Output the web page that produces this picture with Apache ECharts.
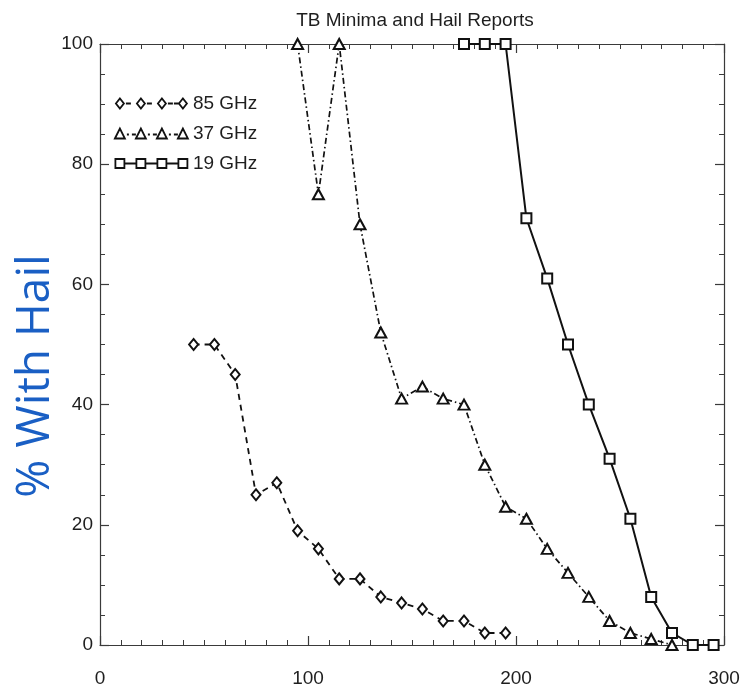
<!DOCTYPE html>
<html>
<head>
<meta charset="utf-8">
<script src="https://cdn.jsdelivr.net/npm/echarts@6/dist/echarts.min.js"></script>
<style>
html,body{margin:0;padding:0;background:#fff;}
#chart{width:744px;height:688px;}
</style>
</head>
<body>
<div id="chart"></div>
<script>
// ---- data ----
var titleText = 'TB Minima and Hail Reports';
var yAxisTitle = '% With Hail';
var xTicks = [0, 100, 200, 300];
var yTicks = [0, 20, 40, 60, 80, 100];

var tb85 = [45, 55, 65, 75, 85, 95, 105, 115, 125, 135, 145, 155, 165, 175, 185, 195];
var pct85 = [50, 50, 45, 25, 27, 19, 16, 11, 11, 8, 7, 6, 4, 4, 2, 2];

var tb37 = [95, 105, 115, 125, 135, 145, 155, 165, 175, 185, 195, 205, 215, 225, 235, 245, 255, 265, 275];
var pct37 = [100, 75, 100, 70, 52, 41, 43, 41, 40, 30, 23, 21, 16, 12, 8, 4, 2, 1, 0];

var tb19 = [175, 185, 195, 205, 215, 225, 235, 245, 255, 265, 275, 285, 295];
var pct19 = [100, 100, 100, 71, 61, 50, 40, 31, 21, 8, 2, 0, 0];

var seriesNames = ['85 GHz', '37 GHz', '19 GHz'];

function pairs(xs, ys) {
  return xs.map(function (x, i) { return [x, ys[i]]; });
}

// ---- legend icons (line + 4 markers) ----
function legendPath(kind) {
  var cs = [5, 26, 47, 68];
  var p = '';
  cs.forEach(function (c, i) {
    if (kind === 'diamond') {
      p += 'M' + (c - 4) + ' 5L' + c + ' 0L' + (c + 4) + ' 5L' + c + ' 10Z';
      if (i < 3) p += 'M' + (c + 6) + ' 5L' + (c + 11) + ' 5';
      if (i === 2) p += 'M' + (c + 12) + ' 5L' + (c + 17) + ' 5';
    } else if (kind === 'triangle') {
      p += 'M' + (c - 5) + ' 10L' + c + ' 0L' + (c + 5) + ' 10Z';
      if (i < 3) p += 'M' + (c + 7) + ' 6L' + (c + 9) + ' 6M' + (c + 12) + ' 6L' + (c + 16) + ' 6';
    } else {
      p += 'M' + (c - 4.5) + ' 0.5L' + (c + 4.5) + ' 0.5L' + (c + 4.5) + ' 9.5L' + (c - 4.5) + ' 9.5Z';
      if (i < 3) p += 'M' + (c + 4.5) + ' 5L' + (c + 16.5) + ' 5';
      if (i === 0) p += 'M0.5 5L' + (c - 4.5) + ' 5';
    }
  });
  p += 'M0 0M73 10';
  return 'path://' + p;
}

var axisLineStyle = { color: '#3a3a3a', width: 1.2 };
var labelFont = { fontFamily: 'Liberation Sans', fontSize: 19, color: '#1e1e1e' };

function makeAxis(pos, ticks, step, minorSplit, showLabels, margin, pad) {
  var lbl = { show: false };
  if (showLabels) {
    lbl = Object.assign({ margin: margin }, labelFont);
    if (pad) lbl.padding = pad;
  }
  return {
    type: 'value', min: ticks[0], max: ticks[ticks.length - 1], interval: step,
    position: pos,
    axisLine: { show: true, onZero: false, lineStyle: axisLineStyle },
    axisTick: { show: true, inside: true, length: 9, lineStyle: axisLineStyle },
    minorTick: { show: true, splitNumber: minorSplit, length: 5, lineStyle: { color: '#3a3a3a', width: 1 } },
    axisLabel: lbl,
    splitLine: { show: false }
  };
}

var chart = echarts.init(document.getElementById('chart'), null, { renderer: 'canvas' });

var option = {
  backgroundColor: '#ffffff',
  animation: false,
  title: {
    text: titleText,
    left: 410,
    textAlign: 'center',
    top: 6,
    textStyle: { fontFamily: 'Liberation Sans', fontSize: 19, fontWeight: 'normal', color: '#1e1e1e' }
  },
  graphic: [{
    type: 'text',
    x: 36,
    y: 376,
    rotation: Math.PI / 2,
    style: {
      text: yAxisTitle,
      fontFamily: 'Open Sans',
      fontSize: 46,
      fill: '#1a5fc4',
      align: 'center',
      verticalAlign: 'middle'
    }
  }],
  legend: {
    orient: 'vertical',
    left: 109,
    top: 89,
    itemWidth: 73,
    itemHeight: 10,
    itemGap: 11,
    itemTextGap: 5,
    textStyle: { fontFamily: 'Liberation Sans', fontSize: 19, color: '#1e1e1e' },
    data: [
      { name: seriesNames[0], icon: legendPath('diamond'), itemStyle: { color: '#ffffff', borderColor: '#111', borderWidth: 1.8 } },
      { name: seriesNames[1], icon: legendPath('triangle'), itemStyle: { color: '#ffffff', borderColor: '#111', borderWidth: 1.8 } },
      { name: seriesNames[2], icon: legendPath('rect'), itemStyle: { color: '#ffffff', borderColor: '#111', borderWidth: 1.8 } }
    ]
  },
  grid: { left: 100, right: 20, top: 44, bottom: 37, containLabel: false },
  xAxis: [
    makeAxis('bottom', xTicks, 100, 10, true, 24, null),
    makeAxis('top', xTicks, 100, 10, false, 0, null)
  ],
  yAxis: [
    makeAxis('left', yTicks, 20, 4, true, 7, [5, 0, 0, 0]),
    makeAxis('right', yTicks, 20, 4, false, 0, null)
  ],
  series: [{
    name: seriesNames[0],
    type: 'line',
    data: pairs(tb85, pct85),
    clip: false,
    symbol: 'diamond',
    symbolSize: [9, 11],
    itemStyle: { color: '#ffffff', borderColor: '#111', borderWidth: 2 },
    lineStyle: { color: '#111', width: 1.8, type: [6, 5] },
    z: 3
  }, {
    name: seriesNames[1],
    type: 'line',
    data: pairs(tb37, pct37),
    clip: false,
    symbol: 'triangle',
    symbolSize: [11, 10],
    itemStyle: { color: '#ffffff', borderColor: '#111', borderWidth: 2 },
    lineStyle: { color: '#111', width: 1.7, type: [6, 3, 1.5, 3] },
    z: 3
  }, {
    name: seriesNames[2],
    type: 'line',
    data: pairs(tb19, pct19),
    clip: false,
    symbol: 'rect',
    symbolSize: [10, 10],
    itemStyle: { color: '#ffffff', borderColor: '#111', borderWidth: 2 },
    lineStyle: { color: '#111', width: 2, type: 'solid' },
    z: 3
  }]
};

chart.setOption(option);
</script>
</body>
</html>
